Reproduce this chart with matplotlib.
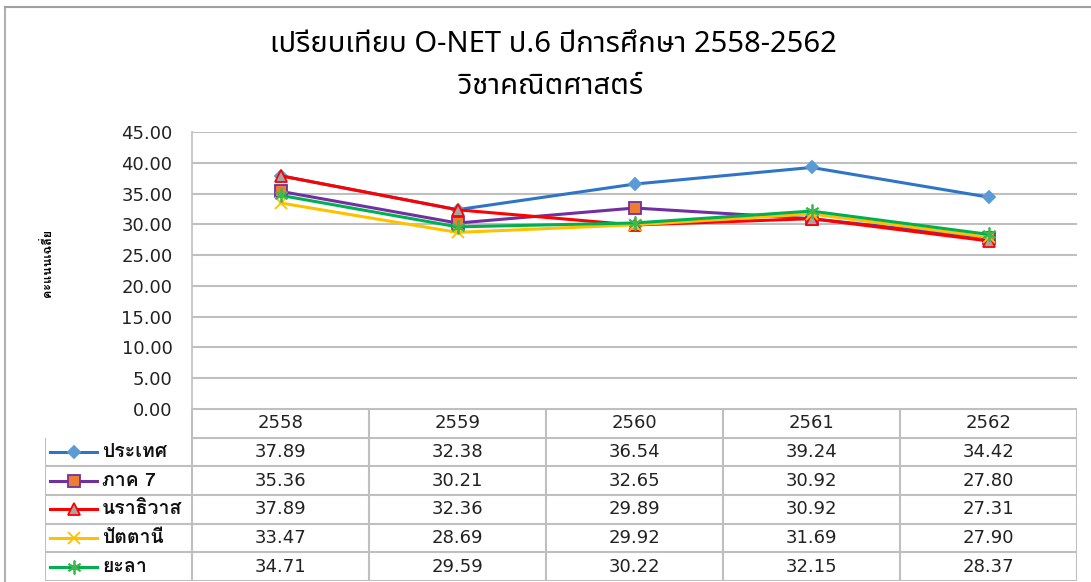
import matplotlib
matplotlib.use('Agg')
import matplotlib.pyplot as plt
from matplotlib.lines import Line2D

years = ['2558', '2559', '2560', '2561', '2562']
series_names = ['ประเทศ', 'ภาค 7', 'นราธิวาส', 'ปัตตานี', 'ยะลา']
prathet = [37.89, 32.38, 36.54, 39.24, 34.42]
phak7 = [35.36, 30.21, 32.65, 30.92, 27.80]
narathiwat = [37.89, 32.36, 29.89, 30.92, 27.31]
pattani = [33.47, 28.69, 29.92, 31.69, 27.90]
yala = [34.71, 29.59, 30.22, 32.15, 28.37]
all_values = [prathet, phak7, narathiwat, pattani, yala]

# line colour, marker, marker face, marker edge, marker size
styles = [
    ('#2E75C8', 'D', '#5B9BD5', '#5B9BD5', 6),
    ('#7030A0', 's', '#ED7D31', '#7030A0', 8),
    ('#FF0000', '^', '#A5A5A5', '#FF0000', 8),
    ('#FFC000', 'x', '#FFC000', '#FFC000', 9),
    ('#00B050', (6, 2, 0), '#70C050', '#3CB850', 10),
]

thai = ['Noto Sans Thai', 'DejaVu Sans']
thai_loop = ['Loma', 'Noto Sans Thai Looped', 'DejaVu Sans']
num_font = ['DejaVu Sans']
grid_c = '#BFBFBF'
text_c = '#222222'

W, H = 1091, 582
fig = plt.figure(figsize=(W / 100, H / 100), dpi=100)

# outer frame (only left and top edges are inside the picture)
fig.add_artist(Line2D([5 / W, 5 / W], [0, 1 - 7 / H], color='#B0B0B0', lw=1.5))
fig.add_artist(Line2D([5 / W, 1], [1 - 7 / H, 1 - 7 / H], color='#A0A0A0', lw=1.5))

fig.text(553 / W, 1 - 45 / H, 'เปรียบเทียบ O-NET ป.6 ปีการศึกษา 2558-2562',
         ha='center', va='center', fontsize=21, family=thai)
fig.text(551 / W, 1 - 86 / H, 'วิชาคณิตศาสตร์',
         ha='center', va='center', fontsize=21, family=thai)

# main line chart
x0, x1, ytop, ybot = 192, 1077, 132, 409
ax = fig.add_axes([x0 / W, 1 - ybot / H, (x1 - x0) / W, (ybot - ytop) / H])
xs = list(range(len(years)))
for vals, (lc, mk, mf, me, ms) in zip(all_values, styles):
    ax.plot(xs, vals, color=lc, lw=2.2, marker=mk, markerfacecolor=mf,
            markeredgecolor=me, markersize=ms, markeredgewidth=1.3, zorder=3)
ax.set_xlim(-0.5, len(years) - 0.5)
ax.set_ylim(0, 45)
ax.set_yticks([0, 5, 10, 15, 20, 25, 30, 35, 40, 45])
ax.set_yticklabels(['%.2f' % v for v in ax.get_yticks()], family=num_font,
                   fontsize=13, color=text_c)
ax.set_xticks([])
ax.tick_params(axis='y', length=0, pad=14)
ax.grid(axis='y', color=grid_c, lw=1.5)
ax.set_axisbelow(True)
for s in ['top', 'right', 'bottom']:
    ax.spines[s].set_visible(False)
ax.spines['left'].set_color(grid_c)
ax.spines['left'].set_linewidth(1.2)

fig.text(47 / W, 1 - 263 / H, 'คะแนนเฉลี่ย', rotation=90, ha='center', va='center',
         fontsize=9, fontweight='bold', family=thai_loop)

# data table below the chart
tleft = 45
tax = fig.add_axes([tleft / W, 1 / H, (x1 - tleft) / W, (H - 1 - ybot) / H])
unit = (x1 - x0) / len(years)
xl = -0.5 - (x0 - tleft) / unit
tax.set_xlim(xl, len(years) - 0.5)
nrows = len(series_names) + 1
tax.set_ylim(0, nrows)
tax.axis('off')
lkw = dict(color=grid_c, lw=1.5, solid_capstyle='butt')
tax.plot([-0.5, len(years) - 0.5], [nrows, nrows], **lkw)
for r in range(nrows):
    left = -0.5 if r == nrows - 1 else xl
    tax.plot([left, len(years) - 0.5], [r, r], **lkw)
tax.plot([xl, xl], [0, nrows - 1], **lkw)
for c in range(len(years) + 1):
    tax.plot([c - 0.5, c - 0.5], [0, nrows], **lkw)

for c, yr in enumerate(years):
    tax.text(c, nrows - 0.5, yr, ha='center', va='center', fontsize=13,
             family=num_font, color=text_c)
seg_l = xl + (50 - tleft) / unit
seg_r = xl + (97 - tleft) / unit
lab_x = xl + (102 - tleft) / unit
for i, (name, vals, (lc, mk, mf, me, ms)) in enumerate(zip(series_names, all_values, styles)):
    yc = nrows - 1.5 - i
    tax.plot([seg_l, seg_r], [yc, yc], color=lc, lw=2.2)
    tax.plot([(seg_l + seg_r) / 2], [yc], color=lc, marker=mk, markerfacecolor=mf,
             markeredgecolor=me, markersize=ms, markeredgewidth=1.3, lw=0)
    tax.text(lab_x, yc + 0.07, name, ha='left', va='center_baseline', fontsize=14,
             fontweight='bold', family=thai_loop, color='#111111')
    for c, v in enumerate(vals):
        tax.text(c, yc, '%.2f' % v, ha='center', va='center', fontsize=13,
                 family=num_font, color=text_c)

fig.savefig('out.png', dpi=100)
